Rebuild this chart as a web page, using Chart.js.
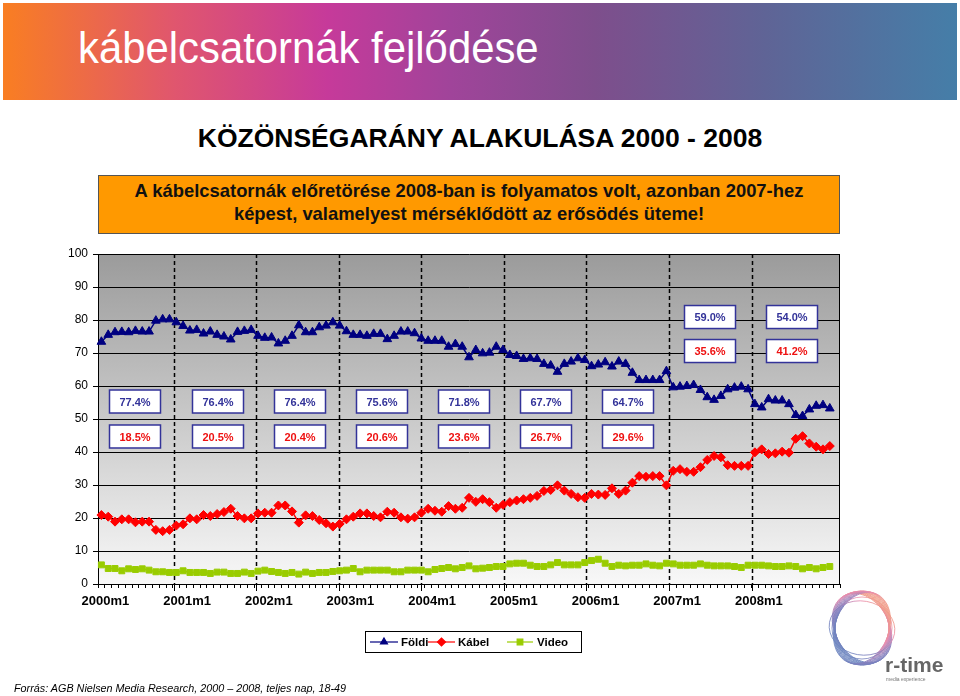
<!DOCTYPE html>
<html lang="hu">
<head>
<meta charset="utf-8">
<title>kábelcsatornák fejlődése</title>
<script src="https://cdn.jsdelivr.net/npm/chart.js@4.4.1/dist/chart.umd.min.js"></script>
<style>
  body { margin: 0; background: #fff; font-family: "Liberation Sans", Arial, sans-serif; }
  #page { position: relative; width: 960px; height: 696px; overflow: hidden; }
  #header {
    position: absolute; left: 3px; top: 3px; width: 954px; height: 97px;
    background: linear-gradient(90deg, #f97e22 0%, #e0566e 18%, #c63a9a 34%, #a0449a 47%, #7e4e8c 62%, #5f6496 80%, #457ea8 100%);
  }
  #header h1 {
    position: absolute; left: 75px; top: 22px; margin: 0;
    font-size: 45px; line-height: 45px; font-weight: normal; color: #fff;
    transform: scaleX(0.93); transform-origin: left top; white-space: nowrap;
  }
  #subtitle {
    position: absolute; left: 0; width: 960px; top: 125px; text-align: center;
    font-size: 26.5px; line-height: 27px; font-weight: bold; color: #000;
  }
  #note {
    position: absolute; left: 98px; top: 175px; width: 740px; height: 54px;
    background: #ff9900; border: 1px solid #555; text-align: center;
    font-size: 18.4px; line-height: 23px; font-weight: bold; color: #111;
    padding-top: 3px; box-sizing: content-box; white-space: nowrap;
  }
  #source {
    position: absolute; left: 14px; top: 682px;
    font-size: 10.8px; font-style: italic; color: #000;
  }
  #chart { position: absolute; left: 0; top: 0; }
  #logo { position: absolute; left: 818px; top: 582px; }
</style>
</head>
<body>
<div id="page">
  <div id="header"><h1>kábelcsatornák fejlődése</h1></div>
  <div id="subtitle">KÖZÖNSÉGARÁNY ALAKULÁSA 2000 - 2008</div>
  <div id="note">A kábelcsatornák előretörése 2008-ban is folyamatos volt, azonban 2007-hez<br>képest, valamelyest mérséklődött az erősödés üteme!</div>
  <canvas id="chart" width="960" height="696"></canvas>
  <svg id="logo" width="130" height="112" viewBox="0 0 130 112">
    <defs>
      <linearGradient id="rg" x1="0" y1="1" x2="1" y2="0">
        <stop offset="0" stop-color="#4f7dbb"/>
        <stop offset="0.45" stop-color="#7a6fb5"/>
        <stop offset="0.7" stop-color="#e77fa6"/>
        <stop offset="1" stop-color="#f5a04e"/>
      </linearGradient>
    </defs>
    <g fill="none" stroke="url(#rg)" stroke-width="0.8" opacity="0.9">
      <ellipse cx="44" cy="46" rx="27" ry="37" transform="rotate(-30 44 46)"/>
      <ellipse cx="44" cy="46" rx="27" ry="37" transform="rotate(-26 44 46)"/>
      <ellipse cx="44" cy="46" rx="27" ry="37" transform="rotate(-22 44 46)"/>
      <ellipse cx="44" cy="46" rx="27" ry="37" transform="rotate(-18 44 46)"/>
      <ellipse cx="44" cy="46" rx="27" ry="37" transform="rotate(-14 44 46)"/>
      <ellipse cx="44" cy="46" rx="27" ry="37" transform="rotate(-10 44 46)"/>
      <ellipse cx="44" cy="46" rx="27" ry="37" transform="rotate(-6 44 46)"/>
      <ellipse cx="44" cy="46" rx="27" ry="37" transform="rotate(-2 44 46)"/>
      <ellipse cx="44" cy="46" rx="27" ry="37" transform="rotate(2 44 46)"/>
      <ellipse cx="44" cy="46" rx="27" ry="37" transform="rotate(6 44 46)"/>
      <ellipse cx="44" cy="46" rx="27" ry="37" transform="rotate(10 44 46)"/>
      <ellipse cx="44" cy="46" rx="27" ry="37" transform="rotate(14 44 46)"/>
      <ellipse cx="44" cy="46" rx="27" ry="37" transform="rotate(18 44 46)"/>
      <ellipse cx="44" cy="46" rx="27" ry="37" transform="rotate(22 44 46)"/>
      <ellipse cx="44" cy="46" rx="30" ry="31" transform="rotate(0 44 46)"/>
      <ellipse cx="44" cy="46" rx="33" ry="27" transform="rotate(10 44 46)"/>
    </g>
    <text x="67" y="90" font-family="Liberation Sans, Arial, sans-serif" font-size="21" font-weight="bold" fill="#666">r-time</text>
    <text x="68" y="99" font-family="Liberation Sans, Arial, sans-serif" font-size="5" fill="#777">media experience</text>
  </svg>
  <div id="source">Forrás: AGB Nielsen Media Research, 2000 – 2008, teljes nap, 18-49</div>
</div>
<script>
// categories: monthly, 2000m1 .. (one spare slot after the last month)
const years = [2000, 2001, 2002, 2003, 2004, 2005, 2006, 2007, 2008, 2009];
const months = [1, 2, 3, 4, 5, 6, 7, 8, 9, 10, 11, 12];
const categories = years.flatMap(y => months.map(m => y + 'm' + m)).slice(0, 109);

// monthly audience share (%)
const foldi = [
  73.4, 75.5, 76.3, 76.4, 76.3, 76.7, 76.5, 76.5, 79.8, 80.2, 80.2, 79.3,
  78.2, 76.8, 77.0, 75.9, 76.5, 75.5, 75.0, 74.1, 76.4, 76.7, 77.0, 75.2,
  74.6, 74.7, 72.9, 73.7, 75.2, 78.4, 76.3, 76.3, 77.8, 78.3, 79.3, 78.3,
  76.6, 75.5, 75.5, 75.2, 75.8, 75.8, 74.2, 75.2, 76.5, 76.5, 76.0, 74.4,
  73.7, 73.7, 73.7, 71.9, 72.7, 71.9, 68.7, 70.9, 69.9, 70.1, 71.9, 70.9,
  69.4, 69.1, 68.2, 68.4, 68.2, 66.7, 66.2, 64.3, 66.7, 67.4, 68.4, 67.9,
  66.0, 66.5, 67.2, 65.9, 67.4, 66.7, 64.0, 61.8, 61.8, 61.8, 61.8, 64.5,
  59.6, 59.8, 60.0, 60.3, 58.8, 56.6, 55.8, 57.0, 59.0, 59.5, 59.8, 59.0,
  54.5, 53.5, 56.0, 55.6, 55.6, 54.5, 51.2, 50.9, 52.9, 54.0, 54.2, 53.2
];
const kabel = [
  20.9, 20.4, 18.9, 19.6, 19.6, 18.7, 18.9, 18.9, 16.4, 16.0, 16.4, 17.7,
  18.1, 19.9, 19.6, 20.9, 20.6, 21.2, 21.8, 22.8, 20.6, 19.9, 19.9, 21.4,
  21.6, 21.6, 23.8, 23.8, 22.0, 18.6, 20.8, 20.6, 19.4, 18.4, 17.4, 18.2,
  19.6, 20.4, 21.4, 21.4, 20.6, 20.2, 21.9, 21.6, 20.2, 19.8, 20.2, 21.6,
  22.8, 22.2, 21.9, 23.6, 22.8, 23.1, 26.1, 24.9, 25.7, 24.8, 23.1, 24.0,
  24.8, 25.3, 25.7, 26.1, 26.7, 28.2, 28.5, 29.9, 28.3, 27.3, 26.3, 26.1,
  27.3, 27.1, 27.0, 29.0, 27.3, 28.3, 30.7, 32.7, 32.5, 32.7, 32.7, 29.9,
  34.3, 34.8, 34.0, 34.0, 35.4, 37.6, 38.8, 38.4, 36.0, 35.8, 35.8, 35.8,
  39.9, 40.8, 39.4, 39.6, 40.1, 39.8, 44.0, 44.8, 42.6, 41.6, 40.8, 41.8
];
const video = [
  5.8, 4.7, 4.7, 4.0, 4.6, 4.4, 4.6, 4.2, 3.7, 3.7, 3.5, 3.5,
  4.0, 3.5, 3.5, 3.5, 3.2, 3.6, 3.6, 3.2, 3.2, 3.6, 3.2, 3.9,
  4.2, 3.8, 3.5, 3.2, 3.5, 3.0, 3.6, 3.2, 3.5, 3.5, 3.8, 4.0,
  4.2, 4.7, 3.7, 4.2, 4.2, 4.2, 4.2, 3.7, 3.7, 4.2, 4.2, 4.2,
  3.7, 4.4, 4.7, 5.0, 4.6, 5.0, 5.5, 4.6, 4.8, 5.0, 5.3, 5.3,
  6.1, 6.3, 6.3, 5.7, 5.3, 5.3, 5.8, 6.5, 5.8, 5.8, 5.8, 6.5,
  7.1, 7.5, 6.3, 5.3, 5.7, 5.5, 5.7, 5.7, 6.1, 5.7, 5.5, 6.3,
  6.1, 5.7, 5.7, 5.7, 6.1, 5.7, 5.5, 5.5, 5.5, 5.3, 5.0, 5.7,
  5.7, 5.7, 5.5, 5.3, 5.3, 5.5, 5.3, 4.6, 5.0, 4.6, 5.0, 5.3
];

// yearly averages shown in the boxes (2000 .. 2008)
const foldiAvg = [77.4, 76.4, 76.4, 75.6, 71.8, 67.7, 64.7, 59.0, 54.0];
const kabelAvg = [18.5, 20.5, 20.4, 20.6, 23.6, 26.7, 29.6, 35.6, 41.2];

const yTicks = [0, 10, 20, 30, 40, 50, 60, 70, 80, 90, 100];

const FONT = '"Liberation Sans", Arial, sans-serif';
Chart.defaults.font.family = FONT;
Chart.defaults.color = '#000';

// plot background, dashed year lines, value boxes and legend
const decor = {
  id: 'decor',
  beforeDraw(chart) {
    const { ctx, chartArea: a } = chart;
    const g = ctx.createLinearGradient(0, a.top, 0, a.bottom);
    g.addColorStop(0, '#9b9b9b');
    g.addColorStop(1, '#f8f8f8');
    ctx.save();
    ctx.fillStyle = g;
    ctx.fillRect(a.left, a.top, a.right - a.left, a.bottom - a.top);
    ctx.restore();
  },
  beforeDatasetsDraw(chart) {
    const { ctx, chartArea: a, scales: { x } } = chart;
    ctx.save();
    ctx.strokeStyle = '#000';
    for (let k = 0; k < 8; k++) {
      const px = Math.round(x.getPixelForValue(10.6 + 12.13 * k)) + 0.5;
      ctx.lineWidth = 1.5;
      ctx.setLineDash([4, 3]);
      ctx.beginPath(); ctx.moveTo(px, a.top); ctx.lineTo(px, a.bottom); ctx.stroke();
      ctx.setLineDash([]);
      ctx.lineWidth = 1;
      ctx.beginPath(); ctx.moveTo(px, a.bottom); ctx.lineTo(px, a.bottom + 7); ctx.stroke();
    }
    // right frame line
    ctx.lineWidth = 1;
    ctx.beginPath(); ctx.moveTo(a.right - 0.5, a.top); ctx.lineTo(a.right - 0.5, a.bottom); ctx.stroke();
    ctx.restore();
  },
  afterDatasetsDraw(chart) {
    const { ctx, scales: { x, y } } = chart;
    const box = (cx, cy, txt, col) => {
      const w = 51, h = 23;
      ctx.fillStyle = '#fff';
      ctx.fillRect(cx - w / 2, cy - h / 2, w, h);
      ctx.strokeStyle = '#333399';
      ctx.lineWidth = 1.5;
      ctx.strokeRect(cx - w / 2, cy - h / 2, w, h);
      ctx.fillStyle = col;
      ctx.font = 'bold 11px ' + FONT;
      ctx.textAlign = 'center';
      ctx.textBaseline = 'middle';
      ctx.fillText(txt, cx, cy + 1);
    };
    ctx.save();
    foldiAvg.forEach((v, k) => {
      const cx = Math.round(x.getPixelForValue(5 + 12.06 * k));
      const late = k >= 7;
      box(cx, y.getPixelForValue(late ? 80.9 : 55.3), v.toFixed(1) + '%', '#333399');
      box(cx, y.getPixelForValue(late ? 70.6 : 44.7), kabelAvg[k].toFixed(1) + '%', '#ee1111');
    });
    ctx.restore();
  },
  afterDraw(chart) {
    const { ctx } = chart;
    ctx.save();
    ctx.strokeStyle = '#000';
    ctx.lineWidth = 1;
    ctx.strokeRect(365.5, 631.5, 216, 21);
    const cy = 642;
    const items = [[370, 398, 401], [428, 455, 458], [507, 533, 537]];
    chart.data.datasets.forEach((ds, i) => {
      const [x0, x1, tx] = items[i];
      ctx.strokeStyle = ds.borderColor;
      ctx.lineWidth = 1.2;
      ctx.beginPath(); ctx.moveTo(x0, cy); ctx.lineTo(x1, cy); ctx.stroke();
      ctx.fillStyle = ds.pointBackgroundColor;
      ctx.strokeStyle = ds.pointBackgroundColor;
      Chart.helpers.drawPoint(ctx, { pointStyle: ds.pointStyle, radius: 4, rotation: 0, borderWidth: 1 }, (x0 + x1) / 2, cy);
      ctx.fillStyle = '#000';
      ctx.font = 'bold 11.5px ' + FONT;
      ctx.textAlign = 'left';
      ctx.textBaseline = 'middle';
      ctx.fillText(ds.label, tx, cy + 1);
    });
    ctx.restore();
  }
};

new Chart(document.getElementById('chart'), {
  type: 'line',
  data: {
    labels: categories,
    datasets: [
      {
        label: 'Földi',
        data: foldi,
        borderColor: '#000080',
        borderWidth: 1.5,
        pointStyle: 'triangle',
        pointRadius: 5,
        pointBackgroundColor: '#000080',
        pointBorderColor: '#000080',
        pointBorderWidth: 1
      },
      {
        label: 'Kábel',
        data: kabel,
        borderColor: '#ff0000',
        borderWidth: 1.5,
        pointStyle: 'rectRot',
        pointRadius: 4.5,
        pointBackgroundColor: '#ff0000',
        pointBorderColor: '#ff0000',
        pointBorderWidth: 1
      },
      {
        label: 'Video',
        data: video,
        borderColor: '#99cc00',
        borderWidth: 1.5,
        pointStyle: 'rect',
        pointRadius: 4.2,
        pointBackgroundColor: '#99cc00',
        pointBorderColor: '#99cc00',
        pointBorderWidth: 1
      }
    ]
  },
  options: {
    responsive: false,
    animation: false,
    devicePixelRatio: 1,
    layout: { padding: { left: 0, right: 120, top: 254, bottom: 0 } },
    plugins: {
      legend: { display: false },
      tooltip: { enabled: false }
    },
    scales: {
      x: {
        type: 'category',
        offset: true,
        afterFit: s => { s.height = 112; },
        border: { display: true, color: '#000', width: 1 },
        grid: { display: true, drawOnChartArea: false, drawTicks: true, tickLength: 4, color: '#000', offset: true },
        ticks: {
          autoSkip: false,
          maxRotation: 0,
          minRotation: 0,
          padding: 6,
          labelOffset: 4,
          font: { size: 13, weight: 'bold' },
          callback: (v, i) => (i % 12 === 0 && i < foldi.length) ? categories[i] : ''
        }
      },
      y: {
        min: 0,
        max: 100,
        afterFit: s => { s.width = 98; },
        afterBuildTicks: s => { s.ticks = yTicks.map(v => ({ value: v })); },
        border: { display: true, color: '#000', width: 1 },
        grid: { color: '#000', lineWidth: 1, drawTicks: true, tickLength: 5 },
        ticks: { padding: 5, font: { size: 12 } }
      }
    }
  },
  plugins: [decor]
});
</script>
</body>
</html>
